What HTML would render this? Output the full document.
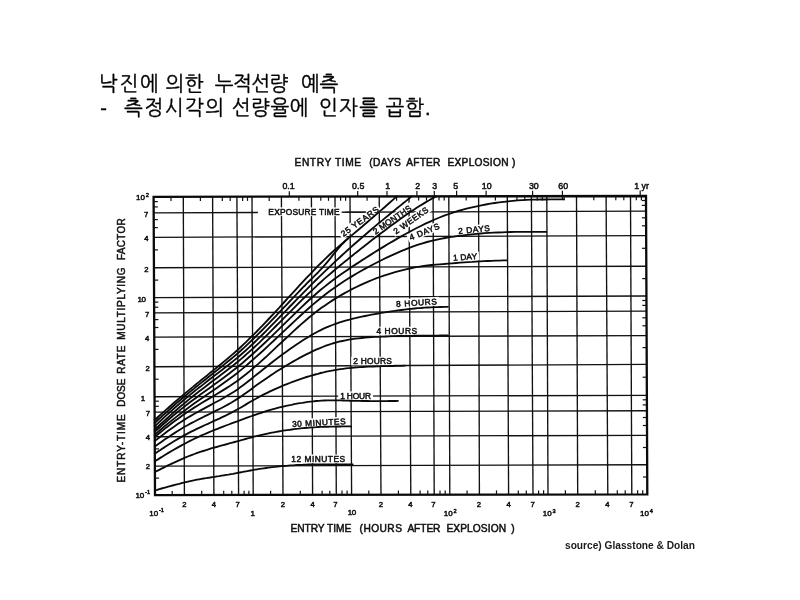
<!DOCTYPE html>
<html lang="ko"><head><meta charset="utf-8"><title>낙진에 의한 누적선량 예측</title>
<style>
html,body{margin:0;padding:0;background:#fff;}
body{width:800px;height:600px;position:relative;overflow:hidden;font-family:"Liberation Sans","NanumGothic",sans-serif;}
.t{position:absolute;left:101px;width:400px;height:24px;white-space:pre;color:#000;font-family:"Liberation Sans","NanumGothic",sans-serif;font-size:20px;line-height:24px;letter-spacing:0.5px;transform:scaleY(1.05);transform-origin:0 100%;}
.t span{position:absolute;top:0;-webkit-text-stroke:0.35px #000;}
#t1{top:72px;}
#t2{top:96px;}
#src{position:absolute;left:564.8px;top:537.5px;font:bold 11.3px/14px "Liberation Sans",sans-serif;color:#1a1a1a;white-space:pre;transform:scaleX(0.9);transform-origin:0 0;}
svg{position:absolute;left:0;top:0;filter:blur(0.35px);}
svg text{font-family:"Liberation Sans",sans-serif;font-weight:normal;fill:#111;stroke:#111;stroke-width:0.5px;stroke-linejoin:round;}
</style></head><body>
<div class="t" id="t1"><span style="left:-2.2px;letter-spacing:1.80px">낙진에</span> <span style="left:64.5px;letter-spacing:0.50px">의한</span> <span style="left:113.7px;letter-spacing:-0.55px">누적선량</span> <span style="left:200.1px;letter-spacing:-0.50px">예측</span></div>
<div class="t" id="t2"><span style="left:-0.8px;letter-spacing:0.00px">-</span> <span style="left:23.1px;letter-spacing:1.50px">측정시각의</span> <span style="left:130.8px;letter-spacing:0.50px">선량율에</span> <span style="left:218.0px;letter-spacing:1.30px">인자를</span> <span style="left:284.6px;letter-spacing:0.95px">곱함.</span></div>
<svg width="800" height="600" viewBox="0 0 800 600">
<line x1="183.3" y1="196.8" x2="184.4" y2="495.1" stroke="#111" stroke-width="1.35"/>
<line x1="212.6" y1="196.8" x2="213.9" y2="495.0" stroke="#111" stroke-width="1.35"/>
<line x1="236.9" y1="196.7" x2="238.6" y2="495.0" stroke="#111" stroke-width="1.35"/>
<line x1="252.0" y1="196.7" x2="253.2" y2="495.0" stroke="#111" stroke-width="1.35"/>
<line x1="281.4" y1="196.7" x2="283.0" y2="494.9" stroke="#111" stroke-width="1.35"/>
<line x1="311.4" y1="196.6" x2="312.6" y2="494.9" stroke="#111" stroke-width="1.35"/>
<line x1="335.0" y1="196.6" x2="336.3" y2="494.8" stroke="#111" stroke-width="1.35"/>
<line x1="350.0" y1="196.5" x2="351.6" y2="494.8" stroke="#111" stroke-width="1.35"/>
<line x1="379.2" y1="196.5" x2="381.0" y2="494.8" stroke="#111" stroke-width="1.35"/>
<line x1="409.0" y1="196.4" x2="410.8" y2="494.7" stroke="#111" stroke-width="1.35"/>
<line x1="433.1" y1="196.4" x2="434.2" y2="494.7" stroke="#111" stroke-width="1.35"/>
<line x1="448.8" y1="196.4" x2="449.8" y2="494.7" stroke="#111" stroke-width="1.35"/>
<line x1="478.6" y1="196.3" x2="479.4" y2="494.6" stroke="#111" stroke-width="1.35"/>
<line x1="507.3" y1="196.3" x2="508.6" y2="494.6" stroke="#111" stroke-width="1.35"/>
<line x1="531.4" y1="196.2" x2="533.0" y2="494.6" stroke="#111" stroke-width="1.35"/>
<line x1="546.8" y1="196.2" x2="548.0" y2="494.5" stroke="#111" stroke-width="1.35"/>
<line x1="576.5" y1="196.1" x2="577.7" y2="494.5" stroke="#111" stroke-width="1.35"/>
<line x1="606.1" y1="196.1" x2="607.8" y2="494.5" stroke="#111" stroke-width="1.35"/>
<line x1="630.5" y1="196.0" x2="631.8" y2="494.4" stroke="#111" stroke-width="1.35"/>
<line x1="154.9" y1="466.1" x2="647.2" y2="464.7" stroke="#111" stroke-width="1.35"/>
<line x1="154.7" y1="436.7" x2="647.0" y2="435.3" stroke="#111" stroke-width="1.35"/>
<line x1="154.6" y1="412.1" x2="646.9" y2="410.7" stroke="#111" stroke-width="1.35"/>
<line x1="154.5" y1="396.7" x2="646.9" y2="395.3" stroke="#111" stroke-width="1.35"/>
<line x1="154.4" y1="366.7" x2="646.7" y2="364.4" stroke="#111" stroke-width="1.35"/>
<line x1="154.3" y1="337.1" x2="646.6" y2="335.6" stroke="#111" stroke-width="1.35"/>
<line x1="154.1" y1="312.9" x2="646.5" y2="311.1" stroke="#111" stroke-width="1.35"/>
<line x1="154.1" y1="297.6" x2="646.4" y2="296.0" stroke="#111" stroke-width="1.35"/>
<line x1="153.9" y1="267.7" x2="646.3" y2="266.2" stroke="#111" stroke-width="1.35"/>
<line x1="153.8" y1="237.3" x2="646.2" y2="235.6" stroke="#111" stroke-width="1.35"/>
<line x1="153.7" y1="212.9" x2="646.1" y2="211.1" stroke="#111" stroke-width="1.35"/>
<rect x="257.9" y="207.4" width="83.8" height="8.7" fill="#fff" transform="rotate(0.0 304.0 211.7)"/>
<rect x="335.4" y="217.1" width="48.5" height="8.7" fill="#fff" transform="rotate(-36.0 359.6 221.4)"/>
<rect x="367.8" y="215.3" width="48.5" height="8.7" fill="#fff" transform="rotate(-34.5 392.0 219.6)"/>
<rect x="388.6" y="216.1" width="44.4" height="8.7" fill="#fff" transform="rotate(-35.2 410.8 220.4)"/>
<rect x="406.5" y="227.3" width="35.6" height="8.7" fill="#fff" transform="rotate(-22.3 424.3 231.6)"/>
<rect x="456.1" y="225.1" width="35.8" height="8.7" fill="#fff" transform="rotate(-5.7 474.0 229.4)"/>
<rect x="450.9" y="252.5" width="28.2" height="8.7" fill="#fff" transform="rotate(-4.0 465.0 256.8)"/>
<rect x="394.1" y="298.3" width="44.8" height="8.7" fill="#fff" transform="rotate(-4.0 416.5 302.6)"/>
<rect x="374.4" y="326.7" width="44.8" height="8.7" fill="#fff" transform="rotate(0.0 396.8 331.0)"/>
<rect x="351.2" y="356.7" width="42.5" height="8.7" fill="#fff" transform="rotate(0.0 372.5 361.0)"/>
<rect x="338.2" y="391.4" width="34.8" height="8.7" fill="#fff" transform="rotate(0.0 355.6 395.7)"/>
<rect x="290.0" y="418.1" width="57.6" height="8.7" fill="#fff" transform="rotate(-3.0 318.8 422.4)"/>
<rect x="289.3" y="454.5" width="57.7" height="8.7" fill="#fff" transform="rotate(0.0 318.2 458.8)"/>
<line x1="345.5" y1="212.2" x2="366.0" y2="212.2" stroke="#111" stroke-width="1.10"/>
<polygon points="153.6,196.9 646.0,196.0 647.3,494.4 155.0,495.1" fill="none" stroke="#0a0a0a" stroke-width="2.30"/>
<line x1="171.0" y1="196.9" x2="171.0" y2="201.1" stroke="#111" stroke-width="1.20"/>
<line x1="172.2" y1="495.1" x2="172.2" y2="490.9" stroke="#111" stroke-width="1.20"/>
<line x1="200.4" y1="196.8" x2="200.4" y2="201.0" stroke="#111" stroke-width="1.20"/>
<line x1="201.7" y1="495.0" x2="201.7" y2="490.8" stroke="#111" stroke-width="1.20"/>
<line x1="222.3" y1="196.8" x2="222.3" y2="201.0" stroke="#111" stroke-width="1.20"/>
<line x1="223.7" y1="495.0" x2="223.7" y2="490.8" stroke="#111" stroke-width="1.20"/>
<line x1="230.2" y1="196.8" x2="230.2" y2="201.0" stroke="#111" stroke-width="1.20"/>
<line x1="231.8" y1="495.0" x2="231.8" y2="490.8" stroke="#111" stroke-width="1.20"/>
<line x1="242.6" y1="196.7" x2="242.6" y2="200.9" stroke="#111" stroke-width="1.20"/>
<line x1="244.1" y1="495.0" x2="244.1" y2="490.8" stroke="#111" stroke-width="1.20"/>
<line x1="247.5" y1="196.7" x2="247.5" y2="200.9" stroke="#111" stroke-width="1.20"/>
<line x1="248.9" y1="495.0" x2="248.9" y2="490.8" stroke="#111" stroke-width="1.20"/>
<line x1="269.2" y1="196.7" x2="269.2" y2="200.9" stroke="#111" stroke-width="1.20"/>
<line x1="270.6" y1="494.9" x2="270.6" y2="490.7" stroke="#111" stroke-width="1.20"/>
<line x1="298.9" y1="196.6" x2="298.9" y2="200.8" stroke="#111" stroke-width="1.20"/>
<line x1="300.3" y1="494.9" x2="300.3" y2="490.7" stroke="#111" stroke-width="1.20"/>
<line x1="320.8" y1="196.6" x2="320.8" y2="200.8" stroke="#111" stroke-width="1.20"/>
<line x1="322.1" y1="494.9" x2="322.1" y2="490.7" stroke="#111" stroke-width="1.20"/>
<line x1="328.5" y1="196.6" x2="328.5" y2="200.8" stroke="#111" stroke-width="1.20"/>
<line x1="329.8" y1="494.9" x2="329.8" y2="490.7" stroke="#111" stroke-width="1.20"/>
<line x1="340.6" y1="196.6" x2="340.6" y2="200.8" stroke="#111" stroke-width="1.20"/>
<line x1="342.0" y1="494.8" x2="342.0" y2="490.6" stroke="#111" stroke-width="1.20"/>
<line x1="345.6" y1="196.5" x2="345.6" y2="200.7" stroke="#111" stroke-width="1.20"/>
<line x1="347.1" y1="494.8" x2="347.1" y2="490.6" stroke="#111" stroke-width="1.20"/>
<line x1="367.1" y1="196.5" x2="367.1" y2="200.7" stroke="#111" stroke-width="1.20"/>
<line x1="368.8" y1="494.8" x2="368.8" y2="490.6" stroke="#111" stroke-width="1.20"/>
<line x1="396.6" y1="196.5" x2="396.6" y2="200.7" stroke="#111" stroke-width="1.20"/>
<line x1="398.4" y1="494.8" x2="398.4" y2="490.6" stroke="#111" stroke-width="1.20"/>
<line x1="418.6" y1="196.4" x2="418.6" y2="200.6" stroke="#111" stroke-width="1.20"/>
<line x1="420.1" y1="494.7" x2="420.1" y2="490.5" stroke="#111" stroke-width="1.20"/>
<line x1="426.5" y1="196.4" x2="426.5" y2="200.6" stroke="#111" stroke-width="1.20"/>
<line x1="427.8" y1="494.7" x2="427.8" y2="490.5" stroke="#111" stroke-width="1.20"/>
<line x1="439.0" y1="196.4" x2="439.0" y2="200.6" stroke="#111" stroke-width="1.20"/>
<line x1="440.0" y1="494.7" x2="440.0" y2="490.5" stroke="#111" stroke-width="1.20"/>
<line x1="444.2" y1="196.4" x2="444.2" y2="200.6" stroke="#111" stroke-width="1.20"/>
<line x1="445.2" y1="494.7" x2="445.2" y2="490.5" stroke="#111" stroke-width="1.20"/>
<line x1="466.2" y1="196.3" x2="466.2" y2="200.5" stroke="#111" stroke-width="1.20"/>
<line x1="467.1" y1="494.7" x2="467.1" y2="490.5" stroke="#111" stroke-width="1.20"/>
<line x1="495.4" y1="196.3" x2="495.4" y2="200.5" stroke="#111" stroke-width="1.20"/>
<line x1="496.5" y1="494.6" x2="496.5" y2="490.4" stroke="#111" stroke-width="1.20"/>
<line x1="516.9" y1="196.2" x2="516.9" y2="200.4" stroke="#111" stroke-width="1.20"/>
<line x1="518.3" y1="494.6" x2="518.3" y2="490.4" stroke="#111" stroke-width="1.20"/>
<line x1="524.8" y1="196.2" x2="524.8" y2="200.4" stroke="#111" stroke-width="1.20"/>
<line x1="526.3" y1="494.6" x2="526.3" y2="490.4" stroke="#111" stroke-width="1.20"/>
<line x1="537.2" y1="196.2" x2="537.2" y2="200.4" stroke="#111" stroke-width="1.20"/>
<line x1="538.6" y1="494.6" x2="538.6" y2="490.4" stroke="#111" stroke-width="1.20"/>
<line x1="542.3" y1="196.2" x2="542.3" y2="200.4" stroke="#111" stroke-width="1.20"/>
<line x1="543.6" y1="494.5" x2="543.6" y2="490.3" stroke="#111" stroke-width="1.20"/>
<line x1="564.2" y1="196.1" x2="564.2" y2="200.3" stroke="#111" stroke-width="1.20"/>
<line x1="565.4" y1="494.5" x2="565.4" y2="490.3" stroke="#111" stroke-width="1.20"/>
<line x1="593.8" y1="196.1" x2="593.8" y2="200.3" stroke="#111" stroke-width="1.20"/>
<line x1="595.3" y1="494.5" x2="595.3" y2="490.3" stroke="#111" stroke-width="1.20"/>
<line x1="615.8" y1="196.1" x2="615.8" y2="200.3" stroke="#111" stroke-width="1.20"/>
<line x1="617.3" y1="494.4" x2="617.3" y2="490.2" stroke="#111" stroke-width="1.20"/>
<line x1="623.8" y1="196.0" x2="623.8" y2="200.2" stroke="#111" stroke-width="1.20"/>
<line x1="625.2" y1="494.4" x2="625.2" y2="490.2" stroke="#111" stroke-width="1.20"/>
<line x1="636.3" y1="196.0" x2="636.3" y2="200.2" stroke="#111" stroke-width="1.20"/>
<line x1="637.6" y1="494.4" x2="637.6" y2="490.2" stroke="#111" stroke-width="1.20"/>
<line x1="641.4" y1="196.0" x2="641.4" y2="200.2" stroke="#111" stroke-width="1.20"/>
<line x1="642.7" y1="494.4" x2="642.7" y2="490.2" stroke="#111" stroke-width="1.20"/>
<line x1="154.9" y1="478.1" x2="159.1" y2="478.1" stroke="#111" stroke-width="1.20"/>
<line x1="647.2" y1="477.0" x2="643.0" y2="477.0" stroke="#111" stroke-width="1.20"/>
<line x1="154.8" y1="448.9" x2="159.0" y2="448.9" stroke="#111" stroke-width="1.20"/>
<line x1="647.1" y1="447.5" x2="642.9" y2="447.5" stroke="#111" stroke-width="1.20"/>
<line x1="154.7" y1="426.9" x2="158.9" y2="426.9" stroke="#111" stroke-width="1.20"/>
<line x1="647.0" y1="425.5" x2="642.8" y2="425.5" stroke="#111" stroke-width="1.20"/>
<line x1="154.6" y1="418.9" x2="158.8" y2="418.9" stroke="#111" stroke-width="1.20"/>
<line x1="647.0" y1="417.5" x2="642.8" y2="417.5" stroke="#111" stroke-width="1.20"/>
<line x1="154.6" y1="406.3" x2="158.8" y2="406.3" stroke="#111" stroke-width="1.20"/>
<line x1="646.9" y1="404.9" x2="642.7" y2="404.9" stroke="#111" stroke-width="1.20"/>
<line x1="154.6" y1="401.2" x2="158.8" y2="401.2" stroke="#111" stroke-width="1.20"/>
<line x1="646.9" y1="399.8" x2="642.7" y2="399.8" stroke="#111" stroke-width="1.20"/>
<line x1="154.5" y1="379.2" x2="158.7" y2="379.2" stroke="#111" stroke-width="1.20"/>
<line x1="646.8" y1="377.2" x2="642.6" y2="377.2" stroke="#111" stroke-width="1.20"/>
<line x1="154.3" y1="349.4" x2="158.5" y2="349.4" stroke="#111" stroke-width="1.20"/>
<line x1="646.7" y1="347.6" x2="642.5" y2="347.6" stroke="#111" stroke-width="1.20"/>
<line x1="154.2" y1="327.5" x2="158.4" y2="327.5" stroke="#111" stroke-width="1.20"/>
<line x1="646.6" y1="325.8" x2="642.4" y2="325.8" stroke="#111" stroke-width="1.20"/>
<line x1="154.2" y1="319.6" x2="158.4" y2="319.6" stroke="#111" stroke-width="1.20"/>
<line x1="646.5" y1="317.8" x2="642.3" y2="317.8" stroke="#111" stroke-width="1.20"/>
<line x1="154.1" y1="307.2" x2="158.3" y2="307.2" stroke="#111" stroke-width="1.20"/>
<line x1="646.5" y1="305.4" x2="642.3" y2="305.4" stroke="#111" stroke-width="1.20"/>
<line x1="154.1" y1="302.1" x2="158.3" y2="302.1" stroke="#111" stroke-width="1.20"/>
<line x1="646.5" y1="300.5" x2="642.3" y2="300.5" stroke="#111" stroke-width="1.20"/>
<line x1="154.0" y1="280.1" x2="158.2" y2="280.1" stroke="#111" stroke-width="1.20"/>
<line x1="646.4" y1="278.6" x2="642.2" y2="278.6" stroke="#111" stroke-width="1.20"/>
<line x1="153.8" y1="249.9" x2="158.0" y2="249.9" stroke="#111" stroke-width="1.20"/>
<line x1="646.2" y1="248.3" x2="642.0" y2="248.3" stroke="#111" stroke-width="1.20"/>
<line x1="153.7" y1="227.6" x2="157.9" y2="227.6" stroke="#111" stroke-width="1.20"/>
<line x1="646.1" y1="225.8" x2="641.9" y2="225.8" stroke="#111" stroke-width="1.20"/>
<line x1="153.7" y1="219.6" x2="157.9" y2="219.6" stroke="#111" stroke-width="1.20"/>
<line x1="646.1" y1="217.8" x2="641.9" y2="217.8" stroke="#111" stroke-width="1.20"/>
<line x1="153.6" y1="206.9" x2="157.8" y2="206.9" stroke="#111" stroke-width="1.20"/>
<line x1="646.0" y1="205.4" x2="641.8" y2="205.4" stroke="#111" stroke-width="1.20"/>
<line x1="153.6" y1="201.6" x2="157.8" y2="201.6" stroke="#111" stroke-width="1.20"/>
<line x1="646.0" y1="200.5" x2="641.8" y2="200.5" stroke="#111" stroke-width="1.20"/>
<line x1="289.3" y1="191.2" x2="289.3" y2="196.7" stroke="#111" stroke-width="1.20"/>
<line x1="357.7" y1="191.0" x2="357.7" y2="196.5" stroke="#111" stroke-width="1.20"/>
<line x1="387.0" y1="191.0" x2="387.0" y2="196.5" stroke="#111" stroke-width="1.20"/>
<line x1="416.9" y1="190.9" x2="416.9" y2="196.4" stroke="#111" stroke-width="1.20"/>
<line x1="434.3" y1="190.9" x2="434.3" y2="196.4" stroke="#111" stroke-width="1.20"/>
<line x1="456.6" y1="190.8" x2="456.6" y2="196.3" stroke="#111" stroke-width="1.20"/>
<line x1="486.1" y1="190.8" x2="486.1" y2="196.3" stroke="#111" stroke-width="1.20"/>
<line x1="532.6" y1="190.7" x2="532.6" y2="196.2" stroke="#111" stroke-width="1.20"/>
<line x1="562.4" y1="190.7" x2="562.4" y2="199.4" stroke="#111" stroke-width="1.20"/>
<line x1="640.2" y1="190.5" x2="640.2" y2="196.0" stroke="#111" stroke-width="1.20"/>
<polyline fill="none" stroke="#0a0a0a" stroke-width="1.85" stroke-linejoin="round" stroke-linecap="round" points="155.0,490.4 157.2,489.8 159.4,489.1 161.6,488.5 163.8,487.9 166.0,487.3 168.2,486.7 170.4,486.1 172.6,485.5 174.8,484.9 177.0,484.3 179.3,483.8 181.5,483.2 183.7,482.6 185.9,482.1 188.1,481.6 190.3,481.1 192.5,480.6 194.7,480.2 196.9,479.7 199.2,479.3 201.4,478.9 203.6,478.5 205.8,478.2 208.0,477.8 210.2,477.5 212.4,477.1 214.7,476.8 217.0,476.4 219.3,476.1 221.6,475.7 223.9,475.3 226.2,474.9 228.5,474.6 230.7,474.2 233.0,473.8 235.3,473.3 237.6,472.9 239.8,472.5 242.0,472.1 244.1,471.7 246.2,471.3 248.4,470.9 250.5,470.5 252.6,470.1 254.8,469.7 257.1,469.3 259.3,468.9 261.6,468.6 263.8,468.3 266.0,468.0 268.3,467.7 270.5,467.4 272.7,467.1 275.0,466.9 277.2,466.6 279.4,466.4 281.7,466.2 283.9,466.0 286.1,465.8 288.3,465.6 290.6,465.4 292.8,465.3 295.0,465.1 297.3,465.0 299.5,464.9 301.7,464.8 303.9,464.7 306.2,464.6 308.4,464.5 310.6,464.5 312.8,464.4 315.0,464.4 317.2,464.4 319.4,464.3 321.7,464.3 323.9,464.3 326.1,464.3 328.3,464.3 330.5,464.3 332.7,464.3 334.9,464.3 337.1,464.3 339.3,464.3 341.6,464.3 343.8,464.3 346.0,464.3 348.2,464.3 350.5,464.3 352.7,464.3"/>
<polyline fill="none" stroke="#0a0a0a" stroke-width="1.85" stroke-linejoin="round" stroke-linecap="round" points="154.9,472.0 157.1,470.9 159.3,469.8 161.5,468.7 163.7,467.6 165.8,466.5 168.0,465.4 170.2,464.4 172.4,463.3 174.6,462.3 176.8,461.3 179.0,460.3 181.2,459.3 183.4,458.4 185.6,457.4 187.8,456.5 190.0,455.7 192.2,454.8 194.4,454.0 196.6,453.2 198.8,452.4 201.0,451.7 203.2,451.0 205.4,450.3 207.6,449.6 209.8,448.9 211.9,448.2 214.2,447.6 216.4,447.0 218.7,446.3 221.0,445.7 223.3,445.1 225.5,444.5 227.8,443.8 230.1,443.2 232.4,442.6 234.6,442.0 236.9,441.4 239.1,440.8 241.3,440.2 243.4,439.6 245.5,439.0 247.6,438.4 249.8,437.9 251.9,437.3 254.1,436.7 256.3,436.2 258.5,435.6 260.7,435.1 262.9,434.6 265.2,434.1 267.4,433.6 269.6,433.1 271.8,432.7 274.0,432.3 276.2,431.9 278.4,431.5 280.7,431.1 282.9,430.7 285.1,430.4 287.3,430.1 289.5,429.8 291.7,429.5 294.0,429.2 296.2,428.9 298.4,428.7 300.6,428.4 302.8,428.2 305.0,428.0 307.2,427.8 309.5,427.6 311.7,427.4 313.9,427.3 316.1,427.2 318.3,427.0 320.4,426.9 322.6,426.8 324.8,426.8 327.0,426.7 329.2,426.7 331.4,426.6 333.6,426.6 335.8,426.5 338.0,426.5 340.2,426.5 342.4,426.4 344.6,426.4 346.8,426.4 349.0,426.3 351.2,426.3"/>
<polyline fill="none" stroke="#0a0a0a" stroke-width="1.85" stroke-linejoin="round" stroke-linecap="round" points="154.8,461.3 157.6,459.6 160.3,457.9 163.0,456.2 165.7,454.5 168.4,452.9 171.1,451.3 173.8,449.7 176.6,448.1 179.3,446.6 182.0,445.1 184.7,443.7 187.4,442.3 190.1,440.9 192.9,439.5 195.6,438.2 198.3,437.0 201.0,435.7 203.7,434.5 206.5,433.3 209.2,432.2 211.9,431.0 214.6,429.9 217.5,428.8 220.3,427.7 223.1,426.6 225.9,425.5 228.7,424.5 231.5,423.4 234.3,422.4 237.2,421.4 239.9,420.4 242.5,419.4 245.1,418.4 247.8,417.4 250.4,416.5 253.1,415.5 255.8,414.6 258.6,413.7 261.3,412.8 264.0,411.9 266.8,411.0 269.5,410.2 272.3,409.4 275.0,408.7 277.7,407.9 280.5,407.2 283.2,406.6 286.0,405.9 288.7,405.3 291.5,404.8 294.2,404.2 296.9,403.7 299.7,403.2 302.4,402.8 305.2,402.3 307.9,401.9 310.7,401.6 313.4,401.3 316.1,401.0 318.8,400.8 321.5,400.6 324.3,400.5 327.0,400.4 329.7,400.3 332.4,400.3 335.1,400.3 337.8,400.3 340.6,400.4 343.3,400.5 346.0,400.6 348.7,400.7 351.5,400.7 354.2,400.8 356.9,400.9 359.6,400.9 362.3,401.0 365.0,401.0 367.8,401.0 370.5,401.1 373.2,401.1 375.9,401.1 378.6,401.1 381.3,401.1 384.1,401.1 386.8,401.1 389.6,401.0 392.4,401.0 395.1,401.0 397.9,400.9"/>
<polyline fill="none" stroke="#0a0a0a" stroke-width="1.85" stroke-linejoin="round" stroke-linecap="round" points="154.8,453.7 157.6,451.8 160.4,450.0 163.2,448.1 166.0,446.3 168.8,444.5 171.6,442.7 174.4,441.0 177.2,439.4 180.0,437.7 182.8,436.1 185.6,434.6 188.4,433.1 191.2,431.7 194.0,430.3 196.8,428.9 199.6,427.6 202.3,426.3 205.1,425.0 207.9,423.8 210.7,422.5 213.5,421.2 216.4,419.9 219.3,418.6 222.2,417.2 225.1,415.8 228.0,414.4 230.9,412.9 233.8,411.4 236.7,409.8 239.5,408.3 242.2,406.7 244.9,405.1 247.6,403.4 250.4,401.8 253.1,400.2 255.9,398.7 258.7,397.1 261.6,395.6 264.4,394.2 267.2,392.8 270.0,391.4 272.8,390.1 275.6,388.8 278.5,387.6 281.3,386.4 284.1,385.2 286.9,384.1 289.7,383.0 292.6,381.9 295.4,380.9 298.2,379.9 301.1,378.9 303.9,377.9 306.7,377.0 309.5,376.2 312.4,375.3 315.2,374.5 317.9,373.8 320.7,373.0 323.5,372.4 326.3,371.7 329.1,371.1 331.9,370.6 334.7,370.1 337.5,369.6 340.3,369.2 343.1,368.8 345.9,368.4 348.7,368.1 351.5,367.8 354.3,367.6 357.1,367.3 359.8,367.1 362.6,367.0 365.4,366.8 368.2,366.7 371.0,366.6 373.8,366.5 376.6,366.4 379.4,366.3 382.2,366.2 385.0,366.1 387.9,366.1 390.7,366.0 393.5,366.0 396.4,365.9 399.2,365.9 402.1,365.8 404.9,365.7"/>
<polyline fill="none" stroke="#0a0a0a" stroke-width="1.85" stroke-linejoin="round" stroke-linecap="round" points="154.8,446.6 158.0,444.3 161.3,441.9 164.6,439.6 167.9,437.4 171.1,435.2 174.4,433.1 177.7,431.0 181.0,429.0 184.2,427.0 187.5,425.2 190.8,423.4 194.1,421.7 197.3,420.0 200.6,418.4 203.9,416.7 207.2,415.1 210.5,413.5 213.7,411.9 217.1,410.2 220.5,408.5 223.9,406.7 227.3,404.9 230.7,403.0 234.0,401.0 237.4,398.9 240.7,396.8 243.8,394.5 247.0,392.2 250.2,389.9 253.4,387.5 256.7,385.1 260.0,382.8 263.3,380.5 266.6,378.2 269.9,375.9 273.2,373.8 276.5,371.6 279.8,369.5 283.1,367.5 286.4,365.5 289.7,363.5 293.0,361.6 296.3,359.7 299.6,357.9 302.9,356.1 306.3,354.4 309.6,352.8 312.9,351.2 316.1,349.7 319.4,348.3 322.7,347.0 325.9,345.7 329.2,344.6 332.4,343.5 335.7,342.6 339.0,341.7 342.3,341.0 345.5,340.3 348.8,339.7 352.1,339.2 355.3,338.7 358.6,338.3 361.9,338.0 365.1,337.7 368.4,337.4 371.7,337.2 374.9,336.9 378.2,336.8 381.5,336.6 384.8,336.5 388.1,336.3 391.4,336.2 394.8,336.1 398.1,336.0 401.4,335.9 404.7,335.9 408.1,335.8 411.4,335.8 414.6,335.7 417.9,335.7 421.2,335.6 424.5,335.6 427.8,335.6 431.1,335.6 434.4,335.6 437.8,335.6 441.1,335.5 444.5,335.5 447.9,335.5"/>
<polyline fill="none" stroke="#0a0a0a" stroke-width="1.85" stroke-linejoin="round" stroke-linecap="round" points="154.7,440.9 158.0,438.4 161.3,435.9 164.6,433.5 167.8,431.0 171.1,428.7 174.4,426.4 177.7,424.1 180.9,422.0 184.2,419.9 187.5,417.8 190.8,415.9 194.0,414.0 197.3,412.2 200.6,410.4 203.9,408.6 207.1,406.9 210.4,405.1 213.7,403.3 217.1,401.5 220.5,399.7 223.9,397.8 227.2,395.8 230.6,393.8 234.0,391.7 237.4,389.4 240.6,387.1 243.8,384.7 247.0,382.3 250.2,379.7 253.4,377.1 256.7,374.5 260.0,371.9 263.3,369.3 266.6,366.7 269.9,364.1 273.1,361.6 276.4,359.1 279.7,356.6 283.0,354.1 286.3,351.7 289.6,349.3 292.9,347.0 296.2,344.7 299.6,342.5 302.9,340.3 306.2,338.2 309.5,336.2 312.8,334.3 316.1,332.5 319.3,330.8 322.6,329.2 325.8,327.7 329.1,326.3 332.4,325.0 335.6,323.8 338.9,322.6 342.2,321.6 345.4,320.7 348.7,319.8 352.0,318.9 355.2,318.2 358.5,317.4 361.8,316.7 365.0,316.0 368.3,315.3 371.5,314.7 374.8,314.1 378.1,313.5 381.3,312.9 384.7,312.4 388.0,311.8 391.3,311.3 394.6,310.9 397.9,310.4 401.3,310.0 404.6,309.6 407.9,309.2 411.2,308.8 414.5,308.5 417.8,308.2 421.1,308.0 424.4,307.7 427.7,307.5 430.9,307.4 434.3,307.2 437.7,307.1 441.0,307.0 444.4,306.9 447.8,306.8"/>
<polyline fill="none" stroke="#0a0a0a" stroke-width="1.85" stroke-linejoin="round" stroke-linecap="round" points="154.7,437.0 158.7,433.8 162.6,430.6 166.5,427.4 170.5,424.3 174.4,421.3 178.4,418.4 182.3,415.6 186.3,412.8 190.2,410.2 194.2,407.6 198.1,405.2 202.0,402.8 206.0,400.4 209.9,398.1 213.9,395.7 218.0,393.3 222.0,390.9 226.1,388.4 230.2,385.8 234.2,383.1 238.3,380.3 242.1,377.3 246.0,374.3 249.8,371.1 253.7,367.8 257.7,364.4 261.6,360.9 265.6,357.3 269.5,353.6 273.5,349.9 277.4,346.2 281.4,342.5 285.4,338.8 289.4,335.1 293.3,331.4 297.3,327.7 301.3,324.1 305.3,320.7 309.3,317.3 313.3,314.1 317.2,311.1 321.1,308.1 325.0,305.4 328.9,302.7 332.9,300.1 336.8,297.7 340.7,295.4 344.6,293.1 348.6,291.0 352.5,288.9 356.4,287.0 360.3,285.1 364.2,283.3 368.2,281.6 372.1,280.0 376.0,278.4 379.9,277.0 383.9,275.6 387.9,274.3 391.9,273.1 395.9,271.9 399.9,270.8 403.9,269.8 407.9,268.9 411.9,268.0 415.8,267.2 419.8,266.6 423.8,266.0 427.8,265.5 431.7,265.0 435.8,264.6 439.9,264.3 444.0,264.0 448.1,263.6 452.1,263.3 456.1,263.0 460.1,262.7 464.1,262.4 468.0,262.1 472.0,261.9 476.0,261.6 480.0,261.4 483.9,261.2 487.7,261.0 491.6,260.9 495.5,260.7 499.3,260.6 503.2,260.4 507.1,260.3"/>
<polyline fill="none" stroke="#0a0a0a" stroke-width="1.85" stroke-linejoin="round" stroke-linecap="round" points="154.7,434.7 159.1,431.0 163.5,427.3 167.8,423.6 172.2,420.1 176.6,416.6 181.0,413.2 185.4,409.9 189.7,406.7 194.1,403.6 198.5,400.5 202.9,397.5 207.2,394.5 211.6,391.5 216.1,388.4 220.6,385.3 225.1,382.1 229.6,378.8 234.1,375.4 238.6,371.9 242.9,368.4 247.2,364.7 251.4,361.0 255.8,357.1 260.2,353.2 264.6,349.2 269.0,345.1 273.4,341.0 277.8,336.9 282.1,332.8 286.6,328.6 291.0,324.5 295.4,320.3 299.8,316.2 304.3,312.1 308.7,308.2 313.1,304.4 317.5,300.7 321.8,297.2 326.2,293.8 330.5,290.5 334.9,287.4 339.2,284.4 343.6,281.5 347.9,278.8 352.3,276.1 356.6,273.5 361.0,271.0 365.3,268.6 369.7,266.3 374.0,264.0 378.4,261.7 382.8,259.5 387.2,257.4 391.6,255.3 396.1,253.3 400.5,251.4 404.9,249.6 409.3,247.8 413.8,246.2 418.2,244.7 422.6,243.3 427.0,242.0 431.5,240.8 436.0,239.8 440.5,238.8 445.0,238.0 449.6,237.2 454.0,236.6 458.4,235.9 462.9,235.4 467.3,234.8 471.7,234.3 476.2,233.9 480.5,233.5 484.8,233.2 489.1,232.9 493.4,232.7 497.7,232.5 502.0,232.3 506.3,232.1 510.7,232.0 515.1,231.9 519.6,231.8 524.0,231.8 528.5,231.8 533.0,231.8 537.4,231.8 541.8,231.8 546.3,231.9"/>
<polyline fill="none" stroke="#0a0a0a" stroke-width="1.85" stroke-linejoin="round" stroke-linecap="round" points="154.7,431.7 159.3,427.7 163.8,423.7 168.4,419.7 173.0,415.8 177.6,412.1 182.1,408.4 186.7,404.8 191.3,401.3 195.9,397.9 200.4,394.5 205.0,391.2 209.6,387.9 214.2,384.6 218.9,381.2 223.6,377.7 228.3,374.2 233.0,370.6 237.8,366.9 242.2,363.2 246.7,359.3 251.2,355.3 255.7,351.2 260.3,347.0 264.9,342.7 269.5,338.3 274.1,333.9 278.7,329.4 283.3,324.9 287.9,320.4 292.5,315.9 297.1,311.4 301.8,306.9 306.4,302.5 311.0,298.3 315.6,294.2 320.1,290.3 324.7,286.6 329.2,283.0 333.8,279.5 338.3,276.2 342.9,273.0 347.4,269.9 352.0,266.8 356.5,263.9 361.0,260.9 365.6,258.0 370.1,255.1 374.6,252.2 379.2,249.4 383.8,246.6 388.4,243.8 393.1,241.1 397.7,238.4 402.3,235.7 406.9,233.2 411.6,230.7 416.2,228.3 420.8,226.0 425.4,223.7 430.1,221.6 434.7,219.5 439.5,217.5 444.2,215.7 449.0,214.0 453.6,212.4 458.2,211.0 462.9,209.6 467.5,208.4 472.1,207.3 476.8,206.3 481.3,205.4 485.8,204.5 490.2,203.7 494.7,203.0 499.2,202.4 503.7,201.8 508.2,201.3 512.8,200.8 517.5,200.4 522.1,200.1 526.8,199.9 531.4,199.7 536.1,199.6 540.7,199.5 545.4,199.5 550.0,199.4 554.6,199.4 559.3,199.3 563.9,199.3"/>
<polyline fill="none" stroke="#0a0a0a" stroke-width="1.85" stroke-linejoin="round" stroke-linecap="round" points="154.7,429.7 157.9,426.7 161.0,423.8 164.2,420.9 167.4,418.0 170.6,415.1 173.8,412.3 177.0,409.5 180.1,406.8 183.3,404.1 186.5,401.5 189.7,398.9 192.9,396.3 196.1,393.8 199.2,391.3 202.4,388.9 205.6,386.5 208.8,384.0 211.9,381.6 215.2,379.2 218.5,376.7 221.7,374.3 225.0,371.8 228.3,369.3 231.6,366.7 234.9,364.1 238.1,361.5 241.2,358.9 244.3,356.2 247.4,353.4 250.6,350.6 253.7,347.8 256.9,344.8 260.1,341.8 263.3,338.7 266.5,335.6 269.7,332.4 272.9,329.2 276.0,326.0 279.2,322.8 282.4,319.6 285.6,316.3 288.9,313.1 292.1,309.8 295.3,306.6 298.5,303.3 301.7,300.1 305.0,297.0 308.2,293.8 311.4,290.8 314.6,287.8 317.7,284.8 320.9,282.0 324.0,279.1 327.2,276.4 330.4,273.7 333.5,271.0 336.7,268.4 339.8,265.7 343.0,263.1 346.2,260.6 349.3,258.0 352.5,255.5 355.6,252.9 358.8,250.4 361.9,247.9 365.1,245.5 368.3,243.0 371.4,240.5 374.6,238.1 377.7,235.7 380.9,233.3 384.1,230.9 387.3,228.5 390.5,226.1 393.8,223.7 397.0,221.4 400.2,219.1 403.4,216.8 406.6,214.5 409.8,212.3 413.1,210.2 416.3,208.1 419.5,206.0 422.7,204.1 425.9,202.1 429.2,200.3 432.4,198.4 435.7,196.6 436.0,196.4"/>
<polyline fill="none" stroke="#0a0a0a" stroke-width="1.85" stroke-linejoin="round" stroke-linecap="round" points="154.7,426.3 157.6,423.6 160.5,420.8 163.4,418.1 166.3,415.4 169.3,412.7 172.2,410.1 175.1,407.5 178.0,405.0 180.9,402.5 183.9,400.0 186.8,397.5 189.7,395.1 192.6,392.8 195.5,390.4 198.4,388.1 201.4,385.9 204.3,383.6 207.2,381.3 210.1,379.1 213.0,376.8 216.0,374.5 219.0,372.2 222.0,369.9 225.0,367.6 228.1,365.2 231.1,362.8 234.1,360.4 237.1,358.0 240.0,355.5 242.8,353.0 245.7,350.5 248.5,347.9 251.4,345.2 254.3,342.5 257.2,339.7 260.1,336.9 263.1,334.0 266.0,331.1 268.9,328.2 271.8,325.2 274.8,322.2 277.7,319.2 280.6,316.2 283.5,313.1 286.5,310.1 289.4,307.0 292.4,304.0 295.4,300.9 298.3,297.8 301.3,294.8 304.2,291.8 307.2,288.8 310.1,285.8 313.1,282.9 316.0,280.0 318.9,277.2 321.8,274.3 324.6,271.6 327.5,268.8 330.4,266.1 333.3,263.4 336.2,260.6 339.1,258.0 342.0,255.3 344.9,252.6 347.8,250.0 350.7,247.4 353.6,244.8 356.5,242.3 359.4,239.7 362.3,237.2 365.2,234.8 368.1,232.3 370.9,229.8 373.8,227.4 376.7,224.9 379.6,222.5 382.6,220.1 385.5,217.6 388.5,215.2 391.4,212.8 394.4,210.4 397.3,208.0 400.3,205.6 403.2,203.3 406.2,200.9 409.1,198.5 411.7,196.4"/>
<polyline fill="none" stroke="#0a0a0a" stroke-width="1.85" stroke-linejoin="round" stroke-linecap="round" points="154.7,423.0 156.8,421.0 159.0,419.0 161.2,417.0 163.3,415.0 165.5,413.1 167.7,411.1 169.8,409.2 172.0,407.2 174.2,405.3 176.3,403.4 178.5,401.5 180.7,399.7 182.8,397.8 185.0,396.0 187.2,394.2 189.3,392.4 191.5,390.6 193.7,388.9 195.8,387.1 198.0,385.4 200.2,383.6 202.3,381.9 204.5,380.2 206.7,378.5 208.8,376.7 211.0,375.0 213.2,373.3 215.4,371.5 217.6,369.8 219.9,368.0 222.1,366.2 224.3,364.4 226.6,362.6 228.8,360.8 231.0,359.0 233.3,357.1 235.5,355.2 237.7,353.4 239.8,351.5 242.0,349.5 244.1,347.6 246.2,345.6 248.3,343.6 250.4,341.6 252.6,339.5 254.7,337.5 256.9,335.3 259.1,333.2 261.3,331.0 263.4,328.8 265.6,326.6 267.8,324.4 270.0,322.1 272.1,319.9 274.3,317.6 276.5,315.3 278.6,313.0 280.8,310.7 283.0,308.4 285.2,306.1 287.4,303.8 289.6,301.5 291.8,299.2 294.0,296.9 296.1,294.6 298.3,292.3 300.5,290.0 302.7,287.7 304.9,285.5 307.1,283.2 309.3,281.0 311.5,278.8 313.7,276.7 315.8,274.6 318.0,272.5 320.1,270.2 322.3,267.9 324.4,265.4 326.6,262.9 328.7,260.3 330.9,257.6 333.0,254.9 335.2,252.3 337.3,249.7 339.5,247.2 341.6,244.7 343.8,242.5 345.9,240.4 348.1,238.4"/>
<polyline fill="none" stroke="#0a0a0a" stroke-width="1.85" stroke-linejoin="round" stroke-linecap="round" points="154.6,420.0 157.4,417.5 160.2,415.0 162.9,412.6 165.7,410.1 168.4,407.7 171.2,405.2 174.0,402.8 176.7,400.5 179.5,398.1 182.3,395.8 185.0,393.4 187.8,391.1 190.5,388.9 193.3,386.6 196.1,384.3 198.8,382.1 201.6,379.8 204.3,377.6 207.1,375.4 209.8,373.1 212.6,370.9 215.4,368.6 218.3,366.3 221.1,364.0 223.9,361.6 226.8,359.3 229.6,356.9 232.5,354.4 235.3,352.0 238.1,349.5 240.8,347.0 243.5,344.4 246.2,341.8 248.9,339.2 251.6,336.5 254.4,333.8 257.2,331.0 259.9,328.2 262.7,325.3 265.5,322.4 268.2,319.5 271.0,316.5 273.8,313.6 276.5,310.6 279.3,307.6 282.0,304.5 284.8,301.5 287.6,298.4 290.4,295.4 293.2,292.3 296.0,289.3 298.8,286.2 301.6,283.2 304.4,280.2 307.2,277.2 310.0,274.3 312.8,271.4 315.5,268.5 318.2,265.7 321.0,263.0 323.7,260.3 326.5,257.6 329.2,255.0 331.9,252.5 334.7,250.0 337.4,247.6 340.2,245.2 342.9,242.9 345.6,240.5 348.4,238.2 351.1,235.9 353.8,233.6 356.6,231.3 359.3,229.0 362.0,226.7 364.8,224.3 367.5,222.0 370.2,219.6 373.0,217.2 375.7,214.9 378.4,212.5 381.2,210.1 384.0,207.7 386.8,205.3 389.6,202.8 392.3,200.4 395.1,197.9 396.8,196.5"/>
<text y="166.2" font-size="10.2" text-anchor="start" xml:space="preserve"><tspan x="294.5" textLength="70.0" lengthAdjust="spacing">ENTRY TIME </tspan><tspan x="369.3" textLength="34.7" lengthAdjust="spacing">(DAYS </tspan><tspan x="406.3" textLength="37.1" lengthAdjust="spacing">AFTER </tspan><tspan x="447.5" textLength="64.1" lengthAdjust="spacing">EXPLOSION </tspan><tspan x="512.0" textLength="3.3" lengthAdjust="spacing">)</tspan></text>
<text y="531.8" font-size="10.2" text-anchor="start" xml:space="preserve"><tspan x="290.4" textLength="63.6" lengthAdjust="spacing">ENTRY TIME </tspan><tspan x="359.6" textLength="45.6" lengthAdjust="spacing">(HOURS </tspan><tspan x="407.4" textLength="35.8" lengthAdjust="spacing">AFTER </tspan><tspan x="446.4" textLength="62.6" lengthAdjust="spacing">EXPLOSION </tspan><tspan x="511.3" textLength="3.3" lengthAdjust="spacing">)</tspan></text>
<text transform="translate(124.7,0) rotate(-90)" font-size="10" text-anchor="start" xml:space="preserve"><tspan x="-482.5" y="0" textLength="71.9" lengthAdjust="spacing">ENTRY-TIME </tspan><tspan x="-406.7" y="0" textLength="30.7" lengthAdjust="spacing">DOSE </tspan><tspan x="-373.7" y="0" textLength="31.5" lengthAdjust="spacing">RATE </tspan><tspan x="-339.7" y="0" textLength="75.7" lengthAdjust="spacing">MULTIPLYING </tspan><tspan x="-260.0" y="0" textLength="41.7" lengthAdjust="spacing">FACTOR</tspan></text>
<text x="288.6" y="189.2" font-size="8.8" text-anchor="middle" >0.1</text>
<text x="358.2" y="189.2" font-size="8.8" text-anchor="middle" >0.5</text>
<text x="387.8" y="189.2" font-size="8.8" text-anchor="middle" >1</text>
<text x="417.6" y="189.2" font-size="8.8" text-anchor="middle" >2</text>
<text x="434.7" y="189.2" font-size="8.8" text-anchor="middle" >3</text>
<text x="455.8" y="189.2" font-size="8.8" text-anchor="middle" >5</text>
<text x="486.7" y="189.2" font-size="8.8" text-anchor="middle" >10</text>
<text x="533.8" y="189.2" font-size="8.8" text-anchor="middle" >30</text>
<text x="563.2" y="189.2" font-size="8.8" text-anchor="middle" >60</text>
<text x="641.5" y="189.2" font-size="8.8" text-anchor="middle" >1 yr</text>
<text x="148.4" y="216.8" font-size="7.7" text-anchor="end" >7</text>
<text x="148.6" y="240.5" font-size="7.7" text-anchor="end" >4</text>
<text x="148.6" y="271.8" font-size="7.7" text-anchor="end" >2</text>
<text x="149.3" y="317.1" font-size="7.7" text-anchor="end" >7</text>
<text x="149.3" y="341.4" font-size="7.7" text-anchor="end" >4</text>
<text x="149.7" y="370.8" font-size="7.7" text-anchor="end" >2</text>
<text x="150.1" y="415.5" font-size="7.7" text-anchor="end" >7</text>
<text x="150.1" y="439.5" font-size="7.7" text-anchor="end" >4</text>
<text x="150.1" y="469.1" font-size="7.7" text-anchor="end" >2</text>
<text x="145.0" y="200.1" font-size="8.0" text-anchor="end">10</text>
<text x="145.8" y="196.6" font-size="5.6" text-anchor="start">2</text>
<text x="145.9" y="301.6" font-size="8.0" text-anchor="end" textLength="8.3" lengthAdjust="spacing" >10</text>
<text x="145.2" y="400.7" font-size="8.0" text-anchor="end" >1</text>
<text x="144.3" y="497.6" font-size="8.0" text-anchor="end">10</text>
<text x="145.1" y="494.1" font-size="5.6" text-anchor="start">-1</text>
<text x="184.5" y="506.5" font-size="7.7" text-anchor="middle" >2</text>
<text x="283.0" y="506.5" font-size="7.7" text-anchor="middle" >2</text>
<text x="381.0" y="506.5" font-size="7.7" text-anchor="middle" >2</text>
<text x="479.0" y="506.5" font-size="7.7" text-anchor="middle" >2</text>
<text x="577.7" y="506.5" font-size="7.7" text-anchor="middle" >2</text>
<text x="213.9" y="506.5" font-size="7.7" text-anchor="middle" >4</text>
<text x="312.6" y="506.5" font-size="7.7" text-anchor="middle" >4</text>
<text x="410.3" y="506.5" font-size="7.7" text-anchor="middle" >4</text>
<text x="508.6" y="506.5" font-size="7.7" text-anchor="middle" >4</text>
<text x="607.4" y="506.5" font-size="7.7" text-anchor="middle" >4</text>
<text x="237.7" y="506.5" font-size="7.7" text-anchor="middle" >7</text>
<text x="335.3" y="506.5" font-size="7.7" text-anchor="middle" >7</text>
<text x="433.5" y="506.5" font-size="7.7" text-anchor="middle" >7</text>
<text x="532.7" y="506.5" font-size="7.7" text-anchor="middle" >7</text>
<text x="631.3" y="506.5" font-size="7.7" text-anchor="middle" >7</text>
<text x="158.2" y="515.7" font-size="8.0" text-anchor="end">10</text>
<text x="159.0" y="512.2" font-size="5.6" text-anchor="start">-1</text>
<text x="252.8" y="515.9" font-size="8.0" text-anchor="middle" >1</text>
<text x="352.0" y="515.2" font-size="8.0" text-anchor="middle" textLength="8.3" lengthAdjust="spacing" >10</text>
<text x="452.6" y="516.0" font-size="8.0" text-anchor="end">10</text>
<text x="453.4" y="512.5" font-size="5.6" text-anchor="start">2</text>
<text x="551.6" y="516.0" font-size="8.0" text-anchor="end">10</text>
<text x="552.4" y="512.5" font-size="5.6" text-anchor="start">3</text>
<text x="649.0" y="516.0" font-size="8.0" text-anchor="end">10</text>
<text x="649.8" y="512.5" font-size="5.6" text-anchor="start">4</text>
<text x="304.0" y="214.8" font-size="8.4" text-anchor="middle" textLength="71.3" lengthAdjust="spacing" transform="rotate(0.0 304.0 211.7)">EXPOSURE TIME</text>
<text x="359.6" y="224.5" font-size="8.4" text-anchor="middle" textLength="44.5" lengthAdjust="spacing" transform="rotate(-36.0 359.6 221.4)">25 YEARS</text>
<text x="392.0" y="222.7" font-size="8.4" text-anchor="middle" textLength="44.5" lengthAdjust="spacing" transform="rotate(-34.5 392.0 219.6)">2 MONTHS</text>
<text x="410.8" y="223.5" font-size="8.4" text-anchor="middle" textLength="40.4" lengthAdjust="spacing" transform="rotate(-35.2 410.8 220.4)">2 WEEKS</text>
<text x="424.3" y="234.7" font-size="8.4" text-anchor="middle" textLength="31.6" lengthAdjust="spacing" transform="rotate(-22.3 424.3 231.6)">4 DAYS</text>
<text x="474.0" y="232.5" font-size="8.4" text-anchor="middle" textLength="31.8" lengthAdjust="spacing" transform="rotate(-5.7 474.0 229.4)">2 DAYS</text>
<text x="465.0" y="259.9" font-size="8.4" text-anchor="middle" textLength="24.2" lengthAdjust="spacing" transform="rotate(-4.0 465.0 256.8)">1 DAY</text>
<text x="416.5" y="305.7" font-size="8.4" text-anchor="middle" textLength="40.8" lengthAdjust="spacing" transform="rotate(-4.0 416.5 302.6)">8 HOURS</text>
<text x="396.8" y="334.1" font-size="8.4" text-anchor="middle" textLength="40.8" lengthAdjust="spacing" transform="rotate(0.0 396.8 331.0)">4 HOURS</text>
<text x="372.5" y="364.1" font-size="8.4" text-anchor="middle" textLength="38.5" lengthAdjust="spacing" transform="rotate(0.0 372.5 361.0)">2 HOURS</text>
<text x="355.6" y="398.8" font-size="8.4" text-anchor="middle" textLength="30.8" lengthAdjust="spacing" transform="rotate(0.0 355.6 395.7)">1 HOUR</text>
<text x="318.8" y="425.5" font-size="8.4" text-anchor="middle" textLength="53.6" lengthAdjust="spacing" transform="rotate(-3.0 318.8 422.4)">30 MINUTES</text>
<text x="318.2" y="461.9" font-size="8.4" text-anchor="middle" textLength="53.7" lengthAdjust="spacing" transform="rotate(0.0 318.2 458.8)">12 MINUTES</text>
</svg>
<div id="src">source) Glasstone &amp; Dolan</div>
</body></html>
